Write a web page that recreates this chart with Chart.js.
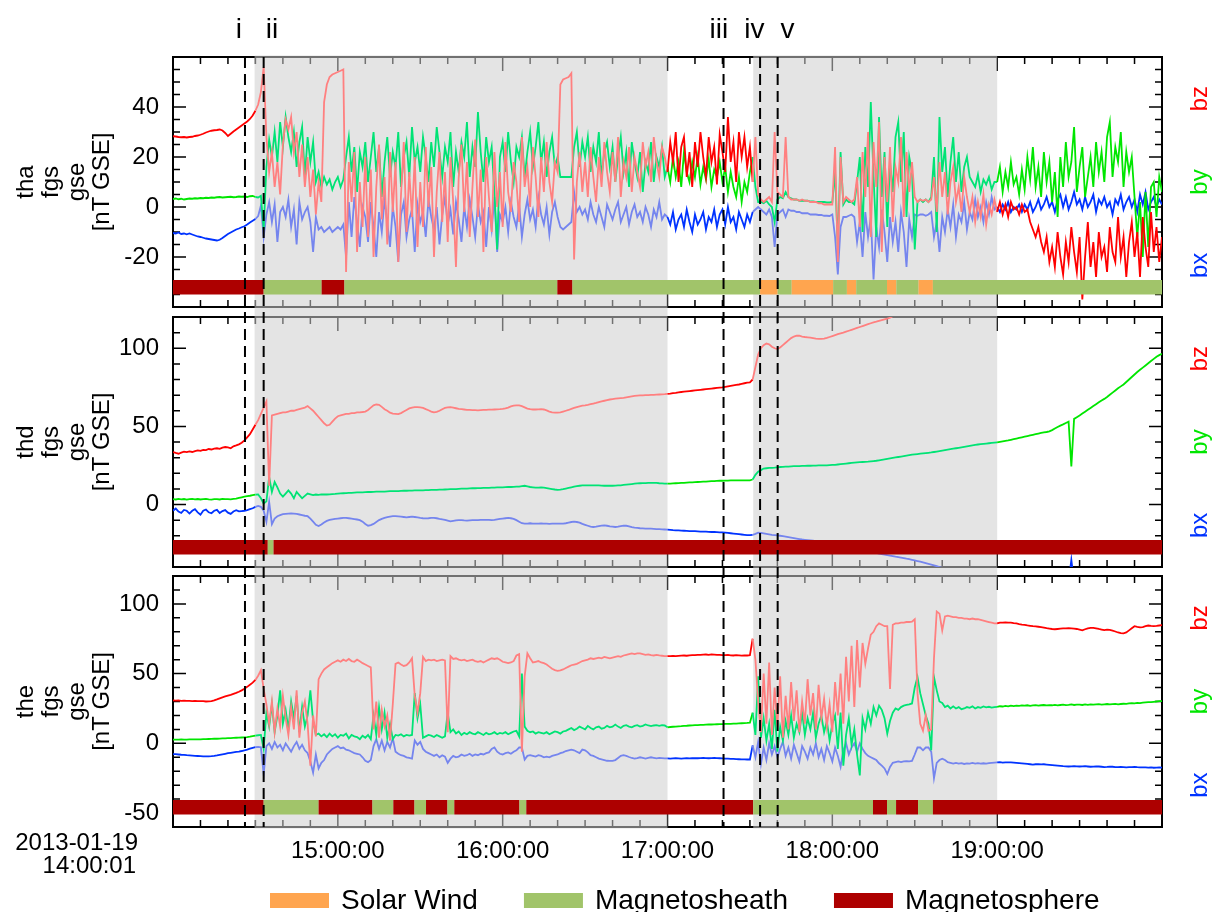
<!DOCTYPE html>
<html>
<head>
<meta charset="utf-8">
<script src="https://cdn.jsdelivr.net/npm/chart.js@4.4.0/dist/chart.umd.min.js"></script>
<style>
  body { margin: 0; background: #fff; }
  #wrap { position: relative; width: 1214px; height: 912px; }
  canvas { position: absolute; left: 0; }
</style>
</head>
<body>
<div id="wrap">
  <canvas id="c1" width="1214" height="312" style="top:0px"></canvas>
  <canvas id="c2" width="1214" height="259" style="top:312px"></canvas>
  <canvas id="c3" width="1214" height="341" style="top:571px"></canvas>
</div>
<script>
// minutes after 2013-01-19 14:00:01, one value per minute
var minutes = [];
for (var m = 0; m <= 360; m++) minutes.push(m);

var xTickMinutes = [60, 120, 180, 240, 300];
var xTickLabels = ["15:00:00", "16:00:00", "17:00:00", "18:00:00", "19:00:00"];

// grey intervals (minutes) and event markers
var shadeMinutes = [[29.7, 180], [211.2, 300]];
var eventMinutes = [26.2, 33.0, 200.4, 213.7, 220.1];
var eventNames = ["i", "ii", "iii", "iv", "v"];
var eventLabelMinutes = [24, 36, 198.7, 211.6, 223.7];

var legendKeys = ["SW", "MSH", "MSP"];
var legendNames = ["Solar Wind", "Magnetosheath", "Magnetosphere"];
var regionColors = { SW: "#ffa54f", MSH: "#a1c46a", MSP: "#ad0000" };

// region intervals [start, end, kind]
var thaRegions = [[0,33,"MSP"],[33,54.1,"MSH"],[54.1,62.4,"MSP"],[62.4,139.9,"MSH"],[139.9,145.4,"MSP"],
  [145.4,213.7,"MSH"],[213.7,220.1,"SW"],[220.1,225.2,"MSH"],[225.2,240.3,"SW"],[240.3,245.3,"MSH"],
  [245.3,248.7,"SW"],[248.7,259.9,"MSH"],[259.9,263.3,"SW"],[263.3,271.4,"MSH"],[271.4,276.6,"SW"],[276.6,360,"MSH"]];
var thdRegions = [[0,34.5,"MSP"],[34.5,36.6,"MSH"],[36.6,360,"MSP"]];
var theRegions = [[0,33,"MSP"],[33,53,"MSH"],[53,72.6,"MSP"],[72.6,80.2,"MSH"],[80.2,87.9,"MSP"],
  [87.9,92.1,"MSH"],[92.1,99.9,"MSP"],[99.9,102.4,"MSH"],[102.4,126.1,"MSP"],[126.1,128.6,"MSH"],
  [128.6,211.2,"MSP"],[211.2,254.8,"MSH"],[254.8,259.9,"MSP"],[259.9,263.2,"MSH"],[263.2,271.2,"MSP"],
  [271.2,276.6,"MSH"],[276.6,360,"MSP"]];

var yTicks1 = [-20, 0, 20, 40];
var yTicks2 = [0, 50, 100];
var yTicks3 = [-50, 0, 50, 100];

// ---- THEMIS A ----
var thaBz = [
  28.3, 28.2, 28.0, 27.9, 28.0, 27.8, 28.0, 28.1, 28.4, 28.6,
  28.9, 29.3, 29.8, 30.2, 30.5, 30.7, 30.8, 31.0, 30.6, 29.6,
  28.4, 29.3, 30.2, 31.0, 31.8, 32.6, 33.4, 34.2, 35.2, 36.6,
  38.5, 41, 46, 56, 28, 14, 22, 8, 18, 5,
  25, 35, 31, 36, 22, 30, 12, 25, 8, 20,
  4, 15, -3, 10, 2, 42, 49, 52, 53, 53.5,
  54, 54.5, 55, -26, 18, 2, 22, -18, 10, -8,
  20, -12, 15, -20, 8, 25, -5, 12, -15, 22,
  -2, 18, -22, 5, 26, -10, 14, -4, 20, -16,
  10, -8, 24, 0, 16, -20, 6, 22, -6, 14,
  -14, 20, 2, -24, 12, 25, -2, 18, -12, 8,
  27, -4, 15, -18, 20, 4, -10, 22, 0, 14,
  -8, 26, 6, -2, 18, 10, -6, 28, 8, 16,
  0, 24, 12, -4, 20, 6, 26, 10, 2, 18,
  14, 49, 51, 51.5, 52, 53.5, -21, 10, 22, 6,
  18, 4, 24, 12, 2, 20, 8, 26, 14, 6,
  22, 10, 28, 4, 18, 12, 24, 6, 20, 14,
  8, 26, 16, 22, 10, 28, 18, 12, 24, 20,
  14, 26, 18, 30, 10, 24, 28, 12, 22, 8,
  26, 16, 30, 20, 12, 28, 18, 24, 9, 29,
  22, 14, 36, 18, 26, 10, 30, 20, 28, 16,
  24, 10, 28, 5, 3, 2, 3, 4, 2, 30,
  6, 5, 4, 28, 4, 3, 3, 3, 2.5, 3,
  2.5, 2.5, 2, 2, 2, 1.5, 1.5, 1, 1, 1,
  1, 24, -22, 20, 2, 4, 3, 2, 3, 12,
  -8, 22, 4, 30, -12, 26, 8, 34, -18, 20,
  2, 24, -6, 16, 10, 28, -4, 22, 6, 18,
  4, 2, 3, 2.5, 3, 2, 3, 12, -2, 18,
  4, 14, -3, 10, 16, 2, 8, -2, 12, 4,
  -2, 4, -6, 2, -4, 5, -7, 1, -3, 3,
  -2, 2, -3, 1, -4, 2, -1, 0, -3, 1,
  -2, -1, -6, -9, -12, -8, -14, -18, -12, -22,
  -16, -24, -10, -20, -27, -14, -22, -8, -18, -26,
  -12, -37, -20, -6, -24, -14, -28, -10, -20, -16,
  -26, -8, -18, -22, -4, -20, -12, -28, -14, -6,
  -20, -10, -28, -4, -16, -24, -2, -18, -8, -22,
  -12
];
var thaBy = [
  3.2, 3.4, 3.1, 3.3, 3.0, 3.2, 3.4, 3.3, 3.5, 3.4,
  3.6, 3.5, 3.7, 3.6, 3.8, 3.7, 3.9, 4.0, 3.8, 3.9,
  4.0, 4.1, 3.9, 4.0, 4.2, 4.1, 4.2, 4.0, 4.3, 4.4,
  4.0, 3.8, 4.5, -9, 16, 27, 20, 30, 18, 34,
  24, 36, 28, 22, 30, 16, 26, 32, 12, 28,
  18, 26, 10, 14, 8, 12, 9, 11, 7, 10,
  12, 8, 11, 20, 28, 14, 24, 6, 22, 16,
  26, 10, 20, 30, 14, 24, 4, 18, 28, 12,
  22, 16, 30, 8, 20, 26, 12, 32, 18, 24,
  14, 28, 20, 10, 26, 16, 32, 22, 12, 24,
  18, 30, 8, 22, 14, 26, 20, 34, 12, 24,
  16, 38, 22, 10, 28, 18, 24, 6, -17, 20,
  26, 14, 30, 18, 10, 24, 20, 28, 12, 22,
  30, 16, 24, 34, 18, 26, 12, 22, 28, 16,
  20, 12, 12, 12, 12, 12, 24, 30, 16, 26,
  20, 28, 14, 24, 18, 30, 12, 22, 26, 16,
  24, 10, 20, 28, 14, 22, 8, 26, 18, 12,
  22, 6, 18, 14, 26, 10, 20, 16, 24, 12,
  16, 10, 20, 12, 18, 8, 22, 14, 10, 18,
  12, 20, 9, 16, 11, 19, 8, 15, 12, 18,
  10, 16, 6, 14, 8, 4, 12, 2, 10, 6,
  14, 20, 8, 2, 2, 1.5, 2.5, 1, 0, -6,
  3, 4, 3.5, 6, 4, 3.5, 3, 3, 2.5, 2.5,
  2.5, 2.5, 2.2, 2.2, 2, 2, 2, 2, 1.8, 1.8,
  2, 14, -16, 22, 1, 3, 2, 2, 1, 10,
  20, -10, 24, 8, 42, 12, -12, 36, 4, 22,
  -8, 18, 6, 28, 34, 10, 30, -4, 20, 14,
  -17, 2, 3, 2, 3, 2, 4, 20, -10, 36,
  14, 24, 4, 18, 28, 10, 22, 6, 16, 20,
  12, 10, 8, 13, 6, 11, 9, 12, 7, 10,
  10, 16, 6, 14, 8, 18, 9, 12, 5, 15,
  7, 20, 11, 24, 8, 16, 4, 22, 10, 18,
  2, 14, -4, 20, 8, 26, 12, 18, 32, 6,
  16, 24, 4, 12, 20, 8, 26, 14, 22, 10,
  28, 34, 12, 24, 18, 30, 8, 22, 14, 20,
  4, -12, 2, -20, 6, -16, 8, 10, -4, 12,
  6
];
var thaBx = [
  -10.4, -10.6, -10.2, -10.8, -10.6, -10.9, -10.6, -11.0, -11.4, -11.8,
  -12.0, -12.3, -12.6, -12.8, -13.0, -13.2, -13.4, -13.1, -12.4, -11.6,
  -10.8, -10.2, -9.6, -9.0, -8.6, -8.1, -7.7, -7.0, -6.2, -5.5,
  -4.8, -3.6, 0.6, -12, -3, 2, -6, 1, -14, -2,
  0, -4, 3, -8, -1, -15, 2, -5, -2, 0,
  -6, -18, -4, -9, -8, -10, -9, -8, -10, -9,
  -8, -9, -7, -20, 2, -12, 4, -6, -16, 0,
  -4, -14, 2, -8, -20, -2, -10, 3, -6, -16,
  0, -8, -22, -3, 2, -12, -5, -1, -18, 1,
  -6, -2, -12, 3, -4, -9, 0, -15, -3, 4,
  -7, -1, -11, 2, -5, -14, 0, -8, 3, -4,
  -12, 1, -6, -2, -16, 0, -9, 4, -18, -3,
  -6, 0, -10, 2, -4, -8, 1, -12, -3, 3,
  -5, -1, -8, 4, -3, -7, 0, -11, -2, 2,
  -4, -8, -9, -8, -7, -6, 6, -2, 0, -3,
  -1, -5, 2, -3, -6, 0, -4, -8, 1, -2,
  -5, -1, 2, -6, -3, 0, -7, -2, 1, -4,
  -2, -6, 0, -3, -8, -1, -4, 2, -5, -3,
  -4, -7, -2, -9, -5, -3, -8, -1, -6, -10,
  -3, -7, -5, -2, -9, -4, -6, -1, -8, -3,
  -1, -7, 0, -6, -4, -9, -2, -5, -8, -3,
  -6, -2, -1, 0, -1, -2, -3, -1, -4, -16,
  -3, -2, -1, -4, -1, -1.5, -1.5, -2, -2, -2.5,
  -2.5, -2.5, -3, -3, -3, -3.2, -3.2, -3.5, -3.5, -3.6,
  -3, -12, -27, -8, -4, -4, -3.5, -3, -4, -14,
  -6, -20, -2, -12, -4, -29, -8, -16, -1, -10,
  -22, -4, -14, -6, -18, -2, -10, -24, -5, -12,
  -3, -3.5, -3, -3, -3.5, -3, -2, -12, -6, -18,
  -4, -10, -1, -8, 1, -12, -3, -6, 2, -9,
  -2, -5, 3, -4, 0, -6, 2, -3, 4, -1,
  0, -2, 1, -1, 2, -2, 0, -1, 1, -2,
  1, -1, 2, -2, 0, 3, -1, 1, 4, 0,
  2, -2, 3, 5, 0, 4, -1, 2, 6, 1,
  3, -1, 4, 0, 2, 5, -2, 3, 1, 4,
  0, 2, -3, 3, 1, 5, -1, 2, 4, 0,
  3, -2, 5, 1, 6, -1, 2, 4, 0, 3,
  1
];

// ---- THEMIS D ----
var thdBz = [
  33.6, 33.0, 32.5, 33.2, 33.8, 33.5, 34.0, 33.6, 34.2, 34.6,
  34.3, 35.0, 34.8, 35.5, 35.2, 35.8, 36.0, 35.6, 36.4, 36.8,
  36.5, 36.0, 37.2, 37.8, 38.5, 39.5, 41, 43, 45, 48,
  51, 54, 58, 62, 66, 12, 57, 57.5, 58, 58.5,
  59, 59, 59.5, 60, 60, 60.5, 61, 61.5, 62, 63,
  61.5, 60, 58, 56, 54, 52, 50.5, 51, 53, 55,
  56.5, 57, 57.5, 58, 58, 58.5, 58.5, 59, 59, 59.2,
  59.5, 60.5, 62, 63.5, 64, 63.8, 62.5, 61, 60, 58.8,
  58.2, 58, 57.8, 58.5, 59.5, 60.5, 61.5, 62, 62.3, 62.3,
  62.2, 61.8, 61, 60.3, 59.5, 59, 59.3, 60, 61, 61.8,
  62.2, 62.3, 62, 61.6, 61.2, 61, 60.8, 60.6, 60.5, 60.4,
  60.4, 60.3, 60.4, 60.5, 60.6, 60.7, 60.7, 60.8, 60.9, 61,
  61.2, 61.5, 62, 62.8, 63.3, 63.5, 63.4, 63, 62.2, 61.4,
  61, 60.8, 60.8, 60.9, 61, 60.8, 60.2, 59.5, 59, 58.8,
  58.8, 59, 59.5, 60, 60.5, 61.2, 61.8, 62.3, 62.8, 63.3,
  63.5, 63.8, 64.2, 64.6, 65, 65.5, 66, 66.4, 66.8, 67.2,
  67.5, 67.7, 67.9, 68.1, 68.3, 68.6, 68.9, 69.2, 69.5, 69.7,
  69.8, 69.9, 70, 70, 70.1, 70.2, 70.3, 70.4, 70.5, 70.6,
  70.8, 71, 71.3, 71.5, 71.8, 72, 72.2, 72.4, 72.6, 72.8,
  73, 73.2, 73.4, 73.6, 73.8, 74, 74.2, 74.4, 74.6, 74.8,
  75, 75.3, 75.6, 75.9, 76.2, 76.5, 76.8, 77.2, 77.6, 78,
  78.2, 80, 88, 96, 100, 102, 103, 102.5, 101, 100,
  99.5, 100.5, 102, 103.5, 105, 106.5, 107.5, 108, 108, 107.5,
  107.2, 107, 106.8, 106.5, 106.2, 106, 106, 106.2, 106.6, 107.2,
  107.8, 108.4, 109, 109.5, 110, 110.6, 111.2, 111.8, 112.4, 113,
  113.6, 114.2, 114.8, 115.4, 116, 116.6, 117, 117.5, 118, 118.5,
  119, 119.5, 120.5, 121.5, 122.5, 123.5, 124.5, 125.5, 126.5, 127.5
];
var thdBy = [
  3.4, 3.2, 3.6, 3.3, 3.5, 3.1, 3.4, 3.6, 3.3, 3.5,
  3.2, 3.4, 3.6, 3.3, 3.1, 3.5, 3.4, 3.2, 3.6, 3.4,
  3.5, 3.3, 3.6, 3.8, 4.2, 4.6, 5.0, 5.3, 5.6, 6.0,
  6.3, 6.4, 4, 0.6, 2, 17.6, 8, 14.4, 11, 7,
  5, 7, 9, 7, 4, 8, 6, 4, 5.5, 7,
  6.5, 6, 6.4, 6.2, 6.5, 6.4, 6.4, 6.5, 6.7, 6.8,
  7, 7.1, 7.2, 7.3, 7.4, 7.5, 7.6, 7.7, 7.7, 7.8,
  7.9, 8, 8, 8.1, 8.2, 8.2, 8.3, 8.3, 8.4, 8.5,
  8.5, 8.6, 8.6, 8.7, 8.8, 8.8, 8.9, 8.9, 9, 9,
  9.1, 9.1, 9.2, 9.2, 9.3, 9.3, 9.4, 9.5, 9.5, 9.6,
  9.7, 9.8, 9.9, 9.9, 10, 10.1, 10.2, 10.2, 10.3, 10.4,
  10.4, 10.5, 10.5, 10.6, 10.6, 10.7, 10.8, 10.8, 10.9, 11,
  11, 11.1, 11.2, 11.2, 11.3, 11.4, 11.5, 11.8, 12, 11.6,
  11.2, 11, 10.8, 10.8, 11, 10.8, 10.5, 10.2, 9.9, 9.6,
  9.4, 9.5, 9.8, 10.2, 10.6, 11, 11.4, 11.8, 12, 12.2,
  12.3, 12.3, 12.3, 12.3, 12.2, 12.2, 12.1, 12, 12, 12,
  12, 12.1, 12.2, 12.3, 12.5, 12.7, 12.9, 13.1, 13.3, 13.5,
  13.6, 13.7, 13.7, 13.8, 13.8, 13.8, 13.8, 13.6, 13.5, 13.4,
  13.4, 13.4, 13.5, 13.6, 13.7, 13.8, 13.9, 14, 14.1, 14.2,
  14.3, 14.4, 14.5, 14.6, 14.7, 14.8, 14.9, 15, 15.1, 15.2,
  15.2, 15.3, 15.3, 15.4, 15.4, 15.5, 15.5, 15.5, 15.5, 15.5,
  15.5, 16, 19, 21, 22, 23, 23.2, 23.4, 23.5, 23.6,
  23.8, 24, 24.1, 24.2, 24.3, 24.4, 24.5, 24.6, 24.6, 24.7,
  24.7, 24.8, 24.8, 24.9, 24.9, 25, 25, 25, 25.1, 25.2,
  25.3, 25.4, 25.6, 25.8, 26, 26.2, 26.4, 26.6, 26.8, 27,
  27.1, 27.2, 27.3, 27.4, 27.6, 27.8, 28, 28.3, 28.6, 28.9,
  29.2, 29.5, 29.8, 30.1, 30.4, 30.7, 31, 31.3, 31.6, 31.9,
  32.1, 32.3, 32.5, 32.7, 32.9, 33.1, 33.3, 33.6, 33.9, 34.2,
  34.5, 34.8, 35.1, 35.4, 35.7, 36, 36.3, 36.6, 36.9, 37.2,
  37.5, 37.8, 38.1, 38.4, 38.6, 38.8, 39, 39.2, 39.4, 39.6,
  39.8, 40.1, 40.4, 40.7, 41, 41.4, 41.8, 42.2, 42.6, 43,
  43.4, 43.8, 44.2, 44.6, 45, 45.4, 45.8, 46.2, 46.4, 46.8,
  47.6, 48.6, 49.6, 50.5, 51.3, 52.2, 53, 24.4, 54.8, 55.9,
  57, 58.2, 59.4, 60.6, 61.8, 63, 64.2, 65.4, 66.6, 67.6,
  68.8, 70.2, 71.6, 73, 74.4, 75.6, 76.8, 78.4, 80, 81.6,
  83.2, 84.8, 86.2, 87.6, 89, 90.4, 91.8, 93.2, 94.6, 95.6,
  96.5
];
var thdBx = [
  -4, -2.6, -4.5, -5.4, -3.5, -4, -5.8, -4, -3, -5,
  -6.5, -4, -3.2, -5, -5.6, -4, -3.4, -5.5, -4.2, -3.6,
  -5.2, -6, -4.5, -3.6, -4.4, -4.2, -4, -3.6, -3, -2.4,
  -1.5, -0.9, -1.5, -4, -11, 1.7, -12.6, -9, -7.5, -6.8,
  -6.2, -6, -5.8, -5.7, -5.8, -6, -6.4, -6.8, -7.2, -7.5,
  -9, -11, -13, -13.8, -12.8, -11.5, -10.5, -9.9, -9.5, -9.2,
  -9, -8.8, -8.6, -8.6, -8.8, -9, -9.3, -9.6, -10, -11,
  -12.5, -13.6, -13.2, -12.4, -11.2, -10, -9.2, -8.6, -8.1, -7.8,
  -7.5, -7.5, -7.6, -7.8, -8, -8.2, -8, -7.8, -8, -8.3,
  -8.6, -8.8, -8.9, -8.8, -8.6, -8.5, -8.8, -9.2, -9.5, -9.8,
  -10.3, -10.8, -10.5, -10.2, -10, -10, -10.2, -10.3, -10.1, -10,
  -10, -10, -9.9, -9.8, -9.8, -9.9, -10, -9.8, -9.5, -9.2,
  -9, -8.8, -8.6, -8.8, -9.2, -10, -11, -12, -12.3, -12.2,
  -12, -12.2, -12.3, -12.2, -12.1, -12.2, -12.3, -12.4, -12.3, -12.2,
  -12.3, -12.3, -12.2, -12, -11.6, -11.2, -11, -11.2, -11.6, -12.4,
  -13, -13.6, -14.2, -14.4, -14.2, -13.8, -13.5, -13.4, -13.6, -14,
  -14.2, -14.4, -14.2, -13.8, -13.5, -13.6, -14, -14.5, -14.8, -15,
  -15.2, -15.3, -15.4, -15.4, -15.5, -15.6, -15.7, -15.8, -15.9, -16,
  -16.1, -16.2, -16.4, -16.5, -16.6, -16.7, -16.8, -16.9, -17, -17.1,
  -17.1, -17.2, -17.3, -17.3, -17.4, -17.5, -17.6, -17.6, -17.7, -17.8,
  -17.9, -18, -18.2, -18.4, -18.6, -18.8, -19, -19.2, -19.4, -19.6,
  -19.6, -19.4, -18.8, -18, -18.2, -18.5, -18.8, -19.1, -19.4, -19.6,
  -19.8, -20, -20.3, -20.6, -20.9, -21.2, -21.5, -21.8, -22.1, -22.4,
  -22.6, -22.8, -23, -23.2, -23.4, -23.8, -24.3, -24.8, -25.3, -25.3,
  -25.6, -26, -26.4, -26.8, -27.2, -27.5, -27.8, -28, -28.4, -28.8,
  -29.1, -29.5, -29.8, -30.1, -30.4, -30.7, -31, -31.4, -31.8, -32.1,
  -32.4, -32.7, -33, -33.4, -33.7, -34, -34.3, -34.7, -35, -35.4,
  -35.8, -36.2, -36.6, -37, -37.5, -38, -38.5, -39, -39.5, -40,
  -40.5, -41, -41.5, -42, -42.5, -43, -43.5, -44, -44.5, -45,
  null, null, null, null, null, null, null, null, null, null,
  null, null, null, null, null, null, null, null, null, null,
  null, null, null, null, null, null, null, null, null, null,
  null, null, null, null, -50, -50, -50, -35.5, -50, -50
];

// ---- THEMIS E ----
var theBz = [
  30.8, 30.6, 30.7, 30.5, 30.6, 30.4, 30.5, 30.3, 30.4, 30.2,
  30.3, 30.2, 30.0, 30.1, 30.3, 30.8, 31.5, 32.3, 33.0, 33.6,
  34.2, 34.8, 35.5, 36.2, 37.0, 38.0, 39.2, 40.5, 42, 43.5,
  45.5, 48.5, 52.5, 39, 28, 14, 30, 8, 25, 12,
  34, 18, 6, 26, 10, 38, 4, 22, 30, 14,
  -16, 20, 5, 46, 50, 53, 54.5, 56, 57.5, 58.5,
  59.5, 58.5, 60, 59, 60.5, 59, 58.5, 60, 58.8, 57.5,
  56.5, 55.5, 54.5, 10, 30, 4, 24, 12, 20, 2,
  28, 57, 58, 56.5, 55.5, 56, 58, 61, 34, 22,
  36, 62, 59, 60, 59.5, 60, 59, 59.5, 60, 59.5,
  8, 62.5, 60.5, 61, 60, 59.5, 60, 59, 59.5, 60,
  59, 58.5, 59, 58, 59, 60, 61, 60.5, 61, 60,
  58.5, 58, 57.5, 58, 59, 63, 64, -6, 48, 64.5,
  61, 58, 58.5, 59, 58, 57.5, 56.5, 55, 53.5, 52.5,
  52, 52.4, 53, 54, 55, 56, 56.5, 57, 58, 59,
  59.5, 60, 61, 60.5, 61, 61.5, 61, 62, 61.5, 61,
  61.5, 62, 62.5, 62, 63, 63.5, 64, 64.5, 64, 64.5,
  64.5, 64, 63.5, 63.8, 63.2, 63, 63.4, 63, 62.8, 62.5,
  62.5, 62.6, 62.7, 62.5, 62.7, 62.9, 63, 62.8, 63.1, 63.3,
  63.2, 63.5, 63.4, 63.6, 63.7, 63.5, 63.8, 63.6, 63.4, 63.5,
  63.3, 63.2, 63.4, 63.1, 63, 63.2, 63.1, 62.9, 63.1, 63,
  63.2, 75, 60, 30, 8, 50, 14, 58, 6, 40,
  12, 48, 4, 34, 10, 44, 16, 38, 8, 30,
  14, 46, 20, 36, 10, 42, 18, 32, 12, 28,
  8, 44, 20, 50, 14, 62, 30, 70, 26, 74,
  40, 72, 57, 68, 78, 80, 84, 86, 85, 84,
  84, 39, 85, 86, 86, 86.5, 86.5, 87, 87, 87.2,
  89, 36, 14, 9, 20, 9, 10, 61, 94.5, 93,
  81, 91, 91.5, 91, 90.5, 90.5, 90, 90, 89.5, 89.5,
  89, 89.5, 89, 89, 88.5, 88, 87.5, 87, 86.5, 86,
  86, 86.5, 86.5, 86.8, 86.5, 86.5, 86.2, 86, 85.5, 85.2,
  85, 84.6, 84.3, 84, 83.8, 83.6, 83.3, 83, 82.6, 82.3,
  82, 81.8, 82, 82.2, 82.4, 82.5, 82.6, 82.5, 82.3, 82,
  81.5, 81, 81.8, 82.5, 82.8, 82.8, 82.5, 82, 81.6, 81.2,
  81.5, 81.3, 80.8, 80.2, 79.5, 79, 78.9, 79.5, 81, 82.5,
  84, 83.5, 83.2, 83.4, 84, 84.5, 84.2, 84, 84.2, 84.5,
  84.8
];
var theBy = [
  2.7, 2.6, 2.7, 2.8, 2.6, 2.7, 2.8, 2.9, 2.8, 2.9,
  2.9, 3.0, 3.0, 3.1, 3.2, 3.3, 3.3, 3.4, 3.5, 3.6,
  3.7, 3.8, 3.9, 4.0, 4.1, 4.2, 4.3, 4.5, 4.8, 5.2,
  5.5, 5.8, 6, -4, 22, 12, 28, 8, 20, 38,
  14, 24, 10, 30, 18, 34, 8, 26, 12, 20,
  38, 16, 6, 7, 5, 6.5, 4.5, 7, 5, 6.5,
  4, 6, 5.5, 7, 3.5, 6, 5, 4.5, 3, 5.5,
  4, 6, 3, 20, 6, 26, 10, 22, 4, 14,
  3, 6, 5.5, 6.5, 5, 6, 5.5, 6, 36, 18,
  28, 4, 5, 6, 5.5, 4.5, 6, 5, 4, 5,
  22, 8, 10, 7, 8.5, 6, 7.5, 6.5, 8, 7,
  6.5, 8, 7, 6, 7.5, 6.5, 7, 8, 6.5, 7.5,
  7, 8, 6.5, 7.5, 8.5, 9, 5, 50, 12, 9,
  8, 8.5, 7, 8, 7.5, 7, 8, 6.5, 7.5, 8.5,
  8, 7, 8.5, 9, 10, 11, 9.5, 10.5, 12, 11,
  10, 12.5, 11, 10, 11.5, 12, 10.5, 11, 12.5, 11.5,
  12, 13.5, 12, 11, 12.5, 13, 12, 11.5, 12.5, 13,
  12, 12.5, 13.5, 12.8, 12.3, 12.8, 13, 12.6, 13, 12.8,
  11.5, 11.7, 11.9, 12, 12.2, 12.3, 12.5, 12.6, 12.8, 12.9,
  13, 13.1, 13.2, 13.3, 13.4, 13.5, 13.5, 13.6, 13.7, 13.8,
  13.8, 13.9, 14, 14, 14.1, 14.2, 14.3, 14.4, 14.5, 14.6,
  14.8, 22, 6, 48, 4, 18, 2, 14, -4, 24,
  -6, 12, 2, 16, 6, 20, 4, 14, 8, 22,
  6, 18, 10, 22, 4, 14, 20, 8, 16, 2,
  14, 20, -4, 22, -16, 6, 18, -1, 10, -8,
  -23, 18, 10, 22, 14, 26, 20, 27, 24, 18,
  7, 16, 22, 25, 24, 26, 27, 27.5, 28, 28.6,
  40, 47.6, 36, 28, 20, 14, -5, 47.6, 38, 30,
  29, 26, 27, 25, 26.5, 25, 26, 24.5, 25, 26,
  25.5, 26.5, 25, 26, 25.5, 26.5, 25.8, 26.2, 25.6, 26,
  26.2, 26.6, 26.4, 26.8, 26.5, 27, 26.7, 27.1, 26.9, 27.2,
  27, 27.3, 26.9, 27.2, 27.4, 27, 27.3, 27.5, 27.2, 27.4,
  27.3, 27.6, 27.2, 27.5, 27.8, 27.4, 27.6, 27.9, 27.5, 27.7,
  27.8, 27.5, 27.9, 27.6, 28, 27.7, 27.9, 28.1, 27.8, 28,
  28.2, 27.9, 28.1, 28.3, 28, 28.2, 28.4, 28.3, 28.6, 28.8,
  28.7, 29, 28.8, 29.2, 29.4, 29.6, 29.5, 29.8, 30, 30.2,
  30.3
];
var theBx = [
  -7.7, -7.8, -8.0, -8.2, -8.3, -8.5, -8.6, -8.8, -9.0, -9.1,
  -9.2, -9.3, -9.4, -9.3, -9.2, -9.0, -8.7, -8.3, -7.9, -7.5,
  -7.1, -6.8, -6.5, -6.2, -5.9, -5.5, -5.0, -4.5, -3.8, -3.2,
  -2.8, -2.6, -2.9, -22, -2, 0, -4, 1, -3, -1,
  -5, 0, -3, -6, -2, 1, -4, -1, -5, -7,
  -13, -21, -8, -18, -14, -12, -8, -6, -4, -3,
  -2, -3.5, -3, -4.5, -5, -6, -7, -7.5, -8, -10,
  -12.5, -13.5, -12, -2, 3, -4, 2, -5, 1, -3,
  3.7, -6, -7.5, -8.5, -9, -10, -10.5, -11, 2, -1,
  1, -4, -6, -7, -8, -9, -8, -10, -8.5, -9.5,
  -14, -11, -9, -10, -9.5, -8, -9, -8.5, -7.5, -9,
  -8, -8.5, -7.5, -8, -7, -6.5, -4, -3, -6, -7.5,
  -8, -7, -6.5, -7.5, -6, -5, -3, -3, -11.7, -9,
  -8.5, -9, -9.5, -8.5, -9, -10, -9.5, -10, -9, -8.5,
  -8, -7, -6.5, -5.5, -5, -4.5, -5, -6, -7, -4.5,
  -5, -6.5, -8.5, -9, -10, -11, -11.5, -12, -12.5, -12.6,
  -12.6, -12, -10.5, -9, -8.5, -9, -9.8, -10.5, -11, -10.6,
  -10, -10.5, -11, -10.5, -10, -10.4, -10.8, -10.5, -10.6, -10.8,
  -10.8, -10.9, -10.8, -10.7, -10.8, -10.9, -10.8, -10.7, -10.8, -10.7,
  -10.6, -10.7, -10.6, -10.5, -10.6, -10.7, -10.6, -10.5, -10.6, -10.7,
  -10.8, -10.9, -11, -11.1, -11.2, -11.3, -11.4, -11.5, -11.5, -11.6,
  -11.6, -1.5, -10, 1, -15, -3, -12, 0, -8, -2,
  -10, -4, 1, -9, -3, -11, -1, -7, -13, -2,
  -6, -11, -3, -8, 0, -10, -4, -12, -2, -7,
  -13, -3, -9, -16.8, -5, 0, -8, -3, 0, -6,
  0, -4, -7, -9, -10, -11, -12, -14.3, -16, -18,
  -22, -17, -14, -13.5, -13, -13.5, -13, -12.8, -13, -12.6,
  -8, -3, -3, -5, -3, -3, -6, -25, -14, -12,
  -11, -12, -13.5, -14, -14.5, -14, -14.6, -14.2, -14.8, -14.4,
  -14.5, -14, -14.6, -14.2, -14.5, -14.3, -14.6, -14.2, -14, -13.8,
  -13.7, -13.5, -13.8, -13.6, -13.7, -13.6, -13.8, -14, -14.2, -14.4,
  -14.6, -14.8, -15, -15.2, -15, -14.9, -15.1, -15, -15.2, -15.4,
  -15.6, -15.8, -16, -16.2, -16.4, -16.5, -16.6, -16.5, -16.4, -16.5,
  -16.6, -16.5, -16.4, -16.6, -16.8, -16.7, -16.5, -16.6, -16.8, -17,
  -16.9, -16.7, -16.8, -17, -17.1, -16.9, -17, -17.2, -17.1, -17,
  -16.9, -17.1, -17.2, -17.3, -17.2, -17.4, -17.3, -17.5, -17.4, -17.3,
  -17.4
];

var vivid = { bz: "#ff0000", by: "#00e600", bx: "#0033ff" };
var pastel = { bz: "#ff8080", by: "#00e375", bx: "#7585ee" };
var FONT = "'Liberation Sans', Arial, Helvetica, sans-serif";
Chart.defaults.font.family = FONT;
Chart.defaults.color = "#000";

function inShade(t) {
  return shadeMinutes.some(function (s) { return t >= s[0] && t < s[1]; });
}

function series(vals, key) {
  return {
    data: vals.map(function (v, i) { return { x: minutes[i], y: v }; }),
    borderColor: vivid[key],
    borderWidth: 1.8,
    pointRadius: 0,
    tension: 0,
    segment: {
      borderColor: function (c) {
        return inShade((c.p0.parsed.x + c.p1.parsed.x) / 2) ? pastel[key] : vivid[key];
      }
    }
  };
}

var panelDeco = {
  id: "panelDeco",
  beforeDatasetsDraw: function (chart, args, o) {
    var ctx = chart.ctx, a = chart.chartArea, x = chart.scales.x, y = chart.scales.y;
    ctx.save();
    ctx.strokeStyle = "#000";
    ctx.lineWidth = 1.5;
    ctx.beginPath();
    for (var m = 0; m <= 360; m += 10) {
      var px = x.getPixelForValue(m);
      var len = m % 60 === 0 ? 14 : 7;
      ctx.moveTo(px, a.bottom); ctx.lineTo(px, a.bottom - len);
      ctx.moveTo(px, a.top); ctx.lineTo(px, a.top + len);
    }
    for (var v = o.yMin; v <= o.yMax; v += o.minor) {
      var py = y.getPixelForValue(v);
      var l2 = v % o.major === 0 ? 13 : 7;
      ctx.moveTo(a.left, py); ctx.lineTo(a.left + l2, py);
      ctx.moveTo(a.right, py); ctx.lineTo(a.right - l2, py);
    }
    ctx.stroke();
    ctx.lineWidth = 2;
    ctx.strokeRect(a.left, a.top, a.right - a.left, a.bottom - a.top);
    // grey shading across the whole stack
    var y0 = o.first ? a.top - 1.5 : 0;
    var y1 = o.last ? a.bottom + 1.5 : chart.height;
    ctx.fillStyle = "rgba(205,205,205,0.55)";
    shadeMinutes.forEach(function (s) {
      var x0 = x.getPixelForValue(s[0]), x1 = x.getPixelForValue(s[1]);
      ctx.fillRect(x0, y0, x1 - x0, y1 - y0);
    });
    ctx.restore();
  },
  afterDatasetsDraw: function (chart, args, o) {
    var ctx = chart.ctx, a = chart.chartArea, x = chart.scales.x;
    ctx.save();
    // region bar
    o.regions.forEach(function (r) {
      var x0 = x.getPixelForValue(r[0]), x1 = x.getPixelForValue(r[1]);
      ctx.fillStyle = regionColors[r[2]];
      ctx.fillRect(x0, a.bottom - 27, x1 - x0, 14.5);
    });
    // event lines
    var y0 = o.first ? a.top : 0;
    var y1 = o.last ? a.bottom : chart.height;
    ctx.strokeStyle = "#000";
    ctx.lineWidth = 2;
    ctx.setLineDash([11, 6]);
    ctx.lineDashOffset = o.dashPhase;
    ctx.beginPath();
    eventMinutes.forEach(function (m) {
      var px = x.getPixelForValue(m);
      ctx.moveTo(px, y0); ctx.lineTo(px, y1);
    });
    ctx.stroke();
    ctx.setLineDash([]);
    // component names on the right
    ctx.font = "24px " + FONT;
    ctx.textAlign = "center";
    ctx.textBaseline = "middle";
    [["bz", 1 / 6], ["by", 1 / 2], ["bx", 5 / 6]].forEach(function (c) {
      ctx.save();
      ctx.translate(a.right + 38, a.top + (a.bottom - a.top) * c[1]);
      ctx.rotate(-Math.PI / 2);
      ctx.fillStyle = vivid[c[0]];
      ctx.fillText(c[0], 0, 0);
      ctx.restore();
    });
    ctx.fillStyle = "#000";
    if (o.first) {
      ctx.font = "28px " + FONT;
      ctx.textBaseline = "alphabetic";
      eventNames.forEach(function (n, i) {
        ctx.fillText(n, x.getPixelForValue(eventLabelMinutes[i]), a.top - 19);
      });
    }
    if (o.last) {
      ctx.font = "24px " + FONT;
      ctx.textAlign = "right";
      ctx.textBaseline = "middle";
      ctx.fillText("2013-01-19", a.left - 35, a.bottom + 16);
      ctx.fillText("14:00:01", a.left - 37, a.bottom + 39);
      // legend
      ctx.font = "28px " + FONT;
      ctx.textAlign = "left";
      var lx = 270;
      legendKeys.forEach(function (k, i) {
        ctx.fillStyle = regionColors[k];
        ctx.fillRect(lx, a.bottom + 66, 59, 15);
        ctx.fillStyle = "#000";
        ctx.fillText(legendNames[i], lx + 71, a.bottom + 74);
        lx += 71 + ctx.measureText(legendNames[i]).width + 46;
      });
    }
    ctx.restore();
  }
};

function makePanel(id, name, vals, yMin, yMax, major, minor, yTicks, regions, cfg) {
  return new Chart(document.getElementById(id), {
    type: "line",
    data: { datasets: [series(vals[0], "bz"), series(vals[1], "by"), series(vals[2], "bx")] },
    plugins: [panelDeco],
    options: {
      responsive: false,
      animation: false,
      devicePixelRatio: 1,
      events: [],
      layout: { padding: { top: cfg.padTop, right: 52, left: 0, bottom: 0 } },
      plugins: {
        legend: { display: false },
        tooltip: { enabled: false },
        panelDeco: { yMin: yMin, yMax: yMax, major: major, minor: minor, regions: regions,
          first: cfg.first, last: cfg.last, dashPhase: cfg.dashPhase }
      },
      scales: {
        x: {
          type: "linear", min: 0, max: 360,
          grid: { display: false, drawTicks: false },
          border: { display: false },
          afterBuildTicks: function (s) { s.ticks = xTickMinutes.map(function (v) { return { value: v }; }); },
          afterFit: function (s) { s.height = cfg.xHeight; s.paddingLeft = 0; s.paddingRight = 0; },
          ticks: {
            display: cfg.last, autoSkip: false, maxRotation: 0, padding: 10,
            font: { size: 24 },
            callback: function (v) { return xTickLabels[xTickMinutes.indexOf(v)]; }
          }
        },
        y: {
          min: yMin, max: yMax,
          grid: { display: false, drawTicks: false },
          border: { display: false },
          afterBuildTicks: function (s) { s.ticks = yTicks.map(function (v) { return { value: v }; }); },
          afterFit: function (s) { s.width = 173; s.paddingTop = 0; s.paddingBottom = 0; },
          ticks: { padding: 14, font: { size: 24 } },
          title: {
            display: true,
            text: [name, "fgs", "gse", "[nT GSE]"],
            font: { size: 24, lineHeight: 1.05 },
            padding: { top: 14, bottom: 0 }
          }
        }
      }
    }
  });
}

makePanel("c1", "tha", [thaBz, thaBy, thaBx], -40, 60, 20, 5, yTicks1, thaRegions,
  { padTop: 57, xHeight: 5, first: true, last: false, dashPhase: 0 });
makePanel("c2", "thd", [thdBz, thdBy, thdBx], -40, 120, 50, 10, yTicks2, thdRegions,
  { padTop: 5, xHeight: 4, first: false, last: false, dashPhase: 255 });
makePanel("c3", "the", [theBz, theBy, theBx], -60, 120, 50, 10, yTicks3, theRegions,
  { padTop: 5, xHeight: 85, first: false, last: true, dashPhase: 514 });
</script>
</body>
</html>
